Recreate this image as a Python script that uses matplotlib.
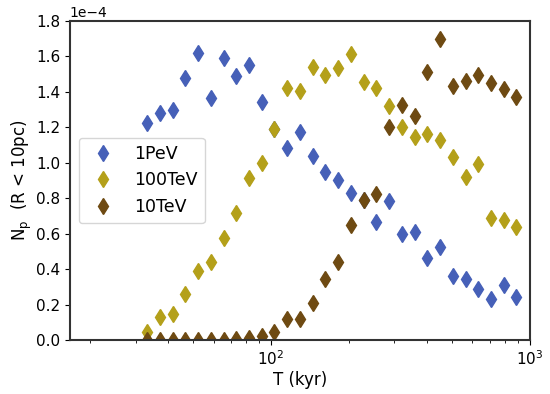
import matplotlib
matplotlib.use("Agg")
from matplotlib import pyplot as plt
import numpy as np

# time grid (kyr)
T = [33.2, 37.2, 41.7, 46.7, 52.3, 58.5, 65.6, 73.4, 82.2, 92.1,
     103.2, 115.5, 129.4, 145.0, 162.4, 181.8, 203.7, 228.1, 255.5, 286.2,
     320.5, 359.0, 402.2, 450.4, 504.5, 565.1, 633.0, 709.0, 794.1, 889.5]

# N_p in units of 1e-4
np_1PeV = [1.226, 1.279, 1.300, 1.480, 1.618, 1.364, 1.591, 1.490, 1.552, 1.345,
           1.19, 1.082, 1.176, 1.038, 0.950, 0.903, 0.830, 0.79, 0.668, 0.784,
           0.598, 0.611, 0.465, 0.523, 0.363, 0.344, 0.290, 0.230, 0.312, 0.241]
np_100TeV = [0.047, 0.130, 0.148, 0.258, 0.389, 0.438, 0.577, 0.718, 0.912, 1.000,
             1.191, 1.420, 1.405, 1.539, 1.495, 1.533, 1.612, 1.458, 1.424, 1.321,
             1.204, 1.147, 1.163, 1.129, 1.035, 0.922, 0.993, 0.687, 0.677, 0.640]
np_10TeV = [0.0, 0.0, 0.0, 0.0, 0.0, 0.0, 0.0, 0.005, 0.01, 0.024,
            0.047, 0.117, 0.117, 0.207, 0.343, 0.442, 0.649, 0.790, 0.824, 1.204,
            1.326, 1.264, 1.514, 1.699, 1.430, 1.462, 1.495, 1.452, 1.415, 1.373]

labels = ['1PeV', '100TeV', '10TeV']
colors = ['#4660b8', '#b4a01a', '#6e4a12']

fig = plt.figure(figsize=(5.5, 3.94), dpi=100)
ax = fig.add_axes([0.127, 0.137, 0.836, 0.810])

for y, lab, c in zip([np_1PeV, np_100TeV, np_10TeV], labels, colors):
    ax.plot(T, np.array(y) * 1e-4, 'd', color=c, markersize=8.3, label=lab)

ax.set_xscale('log')
ax.set_xlim(16.7, 1000)
ax.set_ylim(0, 1.8e-4)
ax.set_yticks(np.arange(0, 1.81e-4, 0.2e-4))
ax.ticklabel_format(style='sci', axis='y', scilimits=(-4, -4))
ax.tick_params(labelsize=11)
ax.yaxis.get_offset_text().set_fontsize(10)

for s in ax.spines.values():
    s.set_color('#333333')
    s.set_linewidth(1.5)

ax.set_xlabel('T (kyr)', fontsize=12, labelpad=2)
ax.set_ylabel(r'N$_\mathrm{p}$  (R < 10pc)', fontsize=12, labelpad=1)
ax.legend(loc='center left', fontsize=12.5, numpoints=1)

fig.savefig('out.png', dpi=100)
